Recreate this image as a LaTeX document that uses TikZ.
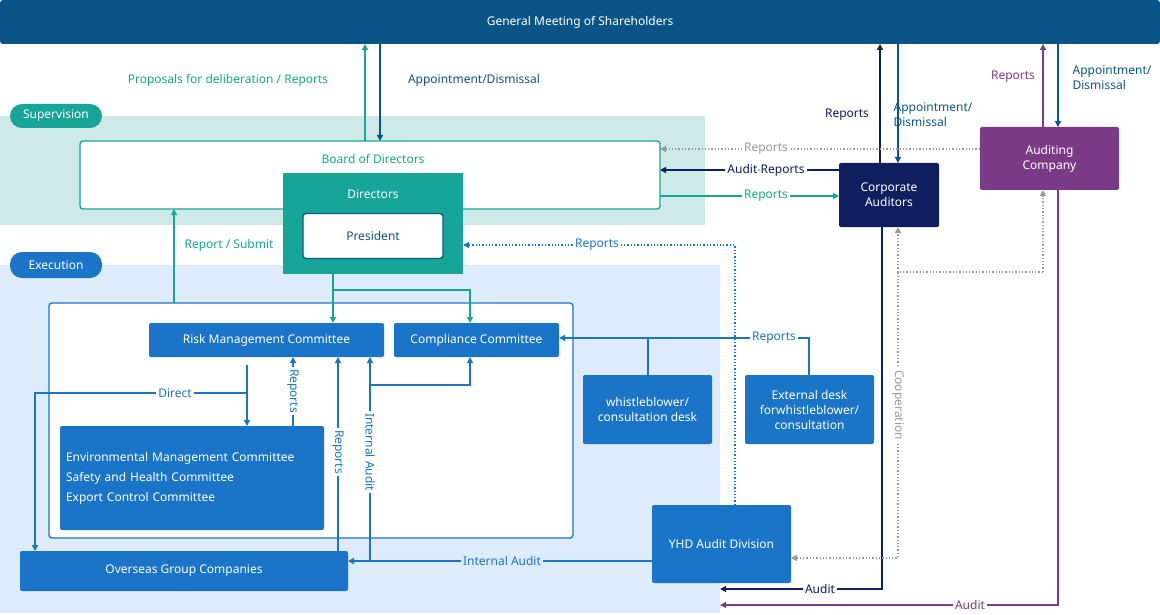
\documentclass[tikz,border=0pt]{standalone}
\usepackage{fontspec}
\setmainfont{Noto Sans}
\usetikzlibrary{arrows.meta}
\definecolor{topb}{HTML}{0B5487}
\definecolor{teal}{HTML}{17A597}
\definecolor{supb}{HTML}{CDE9E8}
\definecolor{exeb}{HTML}{DDEBFA}
\definecolor{bbox}{HTML}{1A74C8}
\definecolor{navy}{HTML}{0E1E5E}
\definecolor{purp}{HTML}{7B3A86}
\definecolor{grayd}{HTML}{9A9A9A}
\tikzset{
 x=1pt,y=-1pt,
 every node/.style={font=\fontsize{12}{15}\selectfont\bfseries},
 bx/.style={fill=bbox,text=white,rounded corners=2,inner sep=0},
 ar/.style={-{Triangle[length=6,width=6]},line width=1.3},
 lb/.style={inner sep=2,fill=#1},
}
\begin{document}
\begin{tikzpicture}
\useasboundingbox (0,0) rectangle (1160,615);
% bands
\node[fill=topb,rounded corners=3,minimum width=1160,minimum height=44,inner sep=0,text=white] (gm) at (580,22) {General Meeting of Shareholders};
\fill[supb] (0,116) rectangle (705,225);
\fill[exeb] (0,265) rectangle (720,613);
\node[fill=teal,text=white,rounded corners=12,minimum width=92,minimum height=24,inner sep=0] (sup) at (56,116) {Supervision};
\node[fill=bbox,text=white,rounded corners=12,minimum width=92,minimum height=26,inner sep=0] (exe) at (56,265) {Execution};
% board
\draw[teal,line width=1.3,fill=white,rounded corners=3] (80,141) rectangle (660,209);
\node[text=teal] (bod) at (373,159) {Board of Directors};
\fill[teal] (283,173) rectangle (463,274);
\node[text=white] (dir) at (373,194) {Directors};
\node[draw=topb,line width=1.3,fill=white,text=topb,rounded corners=3,minimum width=140,minimum height=45,inner sep=0] (pres) at (373,236) {President};
% container
\draw[bbox,line width=1.3,fill=white,rounded corners=3] (49,303) rectangle (573,538);
\node[bx,minimum width=235,minimum height=34] (risk) at (266.5,340) {Risk Management Committee};
\node[bx,minimum width=165,minimum height=34] (comp) at (476.5,340) {Compliance Committee};
\node[bx,minimum width=264,minimum height=104,align=left,text width=252,inner sep=6] (env) at (192,478) {Environmental Management Committee\\[5pt]Safety and Health Committee\\[5pt]Export Control Committee};
\node[bx,minimum width=328,minimum height=40] (ovs) at (184,571) {Overseas Group Companies};
\node[bx,minimum width=129,minimum height=69,align=center] (wb) at (647.5,409.5) {whistleblower/\\consultation desk};
\node[bx,minimum width=129,minimum height=69,align=center] (ext) at (809.5,409.5) {External desk\\forwhistleblower/\\consultation};
\node[bx,minimum width=139,minimum height=78] (yhd) at (721.5,544) {YHD Audit Division};
\node[fill=navy,text=white,rounded corners=2,minimum width=100,minimum height=64,inner sep=0,align=center] (ca) at (889,195) {Corporate\\Auditors};
\node[fill=purp,text=white,rounded corners=2,minimum width=139,minimum height=63,inner sep=0,align=center] (ac) at (1049.5,158.5) {Auditing\\Company};
% top arrows
\draw[ar,teal] (365,141) -- (365,44);
\draw[ar,topb] (380,44) -- (380,141);
\node[text=teal] at (228,80) {Proposals\ for deliberation / Reports};
\node[text=topb] at (474,80) {Appointment/Dismissal};
\draw[ar,navy] (880,163) -- (880,44);
\node[text=navy] at (847,115) {Reports};
\draw[ar,topb] (898,44) -- (898,163);
\node[text=topb,align=left] at (933,115) {Appointment/\\Dismissal};
\draw[ar,purp] (1043,127) -- (1043,44);
\node[text=purp] at (1013,77) {Reports};
\draw[ar,topb] (1058,44) -- (1058,127);
\node[text=topb,align=left] at (1112,78) {Appointment/\\Dismissal};
% board side
\draw[ar,grayd,dotted,line width=1.5] (980,149) -- (660,149);
\node[lb=white,text=grayd] at (766,149) {Reports};
\draw[ar,navy] (839,170) -- (660,170);
\node[lb=white,text=navy] at (766,170) {Audit$\cdot$Reports};
\draw[ar,teal] (660,196) -- (839,196);
\node[lb=white,text=teal] at (766,196) {Reports};
% report/submit
\draw[ar,teal] (174,303) -- (174,209);
\node[text=teal] at (229,245) {Report / Submit};
\draw[ar,teal] (333,274) -- (333,323);
\draw[ar,teal] (333,290) -- (470,290) -- (470,323);
% audit lines
\draw[ar,navy] (882,227) -- (882,589) -- (720,589);
\node[lb=white,text=navy] at (820,589) {Audit};
\draw[ar,purp] (1058,190) -- (1058,605) -- (720,605);
\node[lb=white,text=purp] at (970,605) {Audit};
% cooperation
\draw[ar,grayd,dotted,line width=1.5] (1043,272) -- (1043,190);
\draw[ar,grayd,dotted,line width=1.5] (898,272) -- (898,227);
\draw[ar,grayd,dotted,line width=1.5] (1043,272) -- (898,272) -- (898,558) -- (791,558);
\node[lb=white,text=grayd,rotate=-90] at (898,405) {Cooperation};
% YHD reports
\draw[ar,bbox,dotted,line width=1.5] (735,505) -- (735,245) -- (463,245);
\node[lb=white,text=bbox] at (597,245) {Reports};
% whistle
\draw[ar,bbox] (809,375) -- (809,338) -- (559,338);
\draw[bbox,line width=1.3] (648,375) -- (648,338);
\node[lb=white,text=bbox] at (774,338) {Reports};
% internal audit
\draw[ar,bbox] (652,561) -- (348,561);
\node[lb=exeb,text=bbox] at (502,561) {Internal Audit};
\draw[ar,bbox] (370,561) -- (370,357);
\draw[ar,bbox] (370,385) -- (470,385) -- (470,357);
\node[lb=white,text=bbox,rotate=-90] at (370,452) {Internal Audit};
\draw[ar,bbox] (338,551) -- (338,357);
\node[lb=white,text=bbox,rotate=-90] at (338,452) {Reports};
\draw[ar,bbox] (293,426) -- (293,357);
\node[lb=white,text=bbox,rotate=-90] at (293,391) {Reports};
\draw[ar,bbox] (247,365) -- (247,426);
\draw[ar,bbox] (247,393) -- (35,393) -- (35,551);
\node[lb=white,text=bbox] at (175,393) {Direct};
\end{tikzpicture}
\end{document}
